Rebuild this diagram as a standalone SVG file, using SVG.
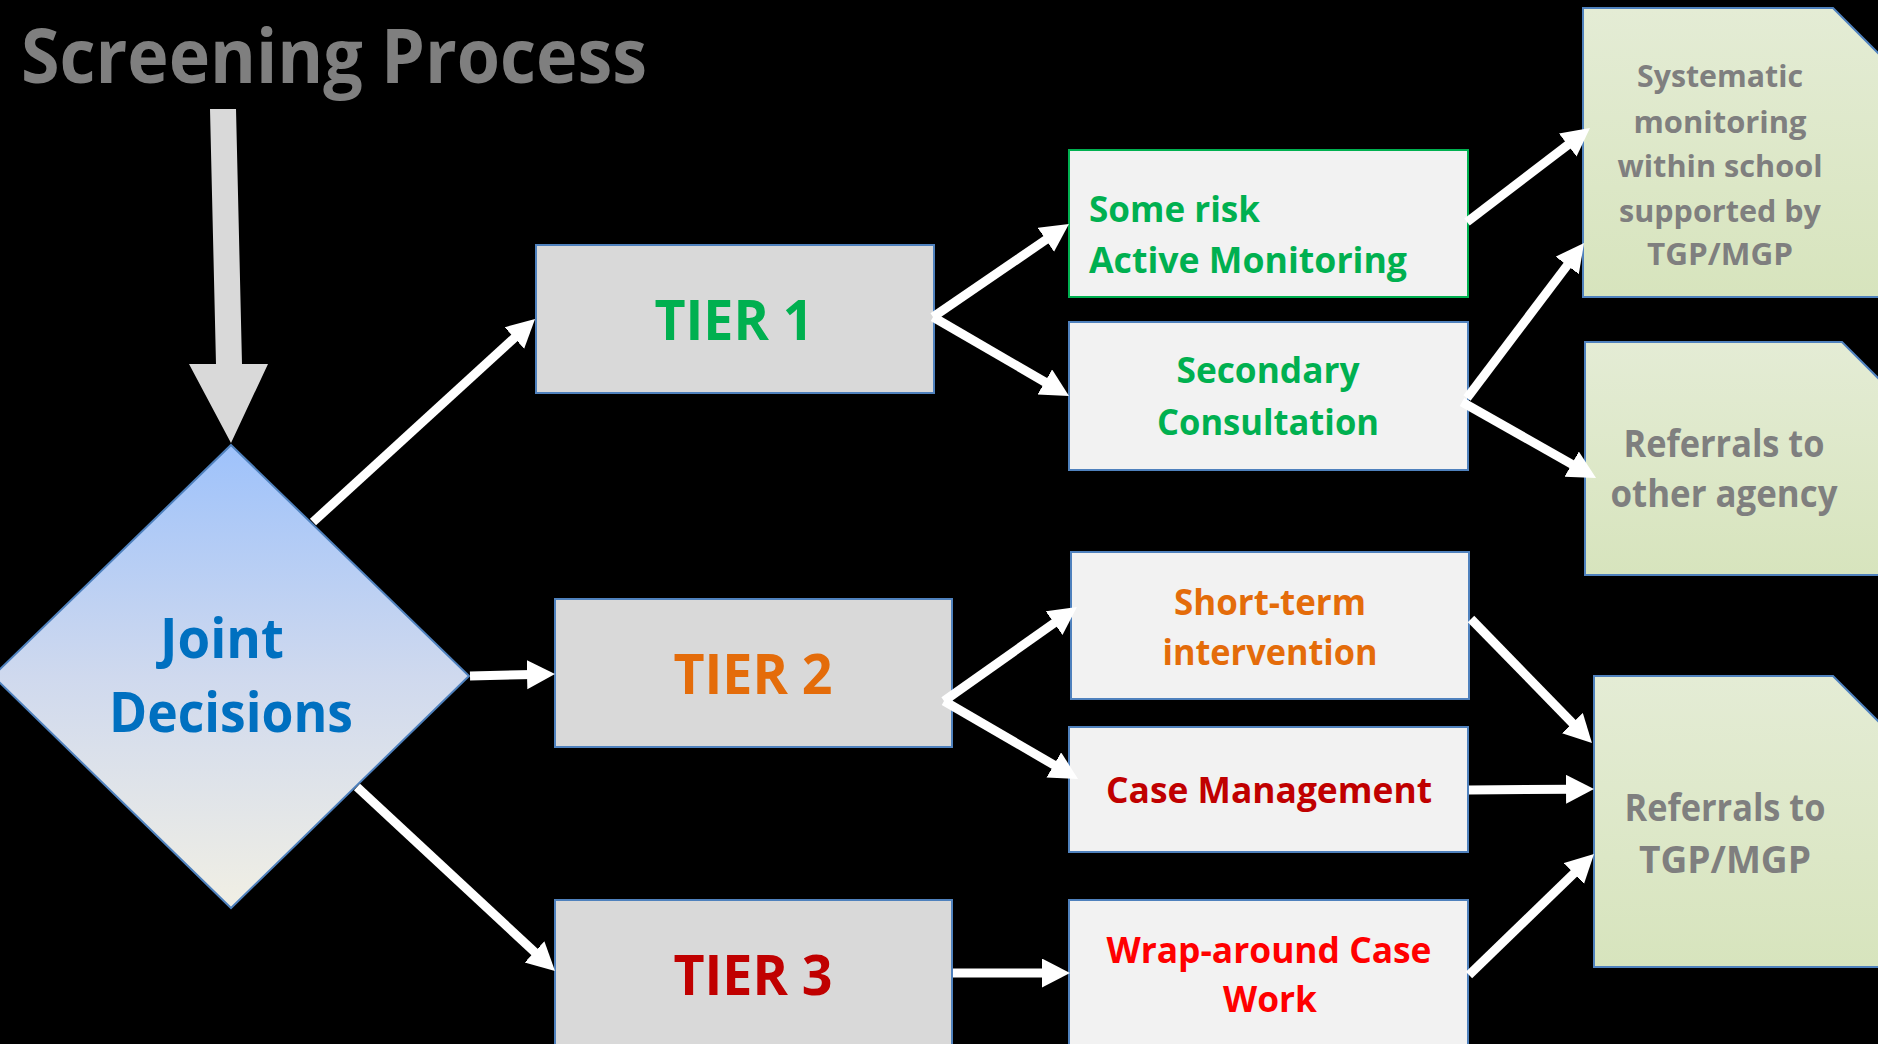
<svg xmlns="http://www.w3.org/2000/svg" width="1878" height="1044" viewBox="0 0 1878 1044">
<defs>
<linearGradient id="gDiamond" x1="0" y1="0" x2="0" y2="1">
<stop offset="0" stop-color="#9ec2fb"/>
<stop offset="0.5" stop-color="#cfd9ee"/>
<stop offset="1" stop-color="#f1efe4"/>
</linearGradient>
<linearGradient id="gGreen" x1="0" y1="0" x2="0" y2="1">
<stop offset="0" stop-color="#e4ecd5"/>
<stop offset="1" stop-color="#d7e4bd"/>
</linearGradient>
<marker id="ah" markerUnits="userSpaceOnUse" markerWidth="30" markerHeight="30" refX="6" refY="14.5" orient="auto" viewBox="0 0 30 30">
<path d="M0,0 L28,14.5 L0,29 z" fill="#ffffff"/>
</marker>
<style>
text{font-family:"Open Sans","Liberation Sans",sans-serif;font-weight:700}
.tier{fill:#d9d9d9;stroke:#4f81bd;stroke-width:2}
.box{fill:#f2f2f2;stroke:#4f81bd;stroke-width:2}
.doc{fill:url(#gGreen);stroke:#4f81bd;stroke-width:2}
.conn line{stroke:#ffffff;stroke-width:9;marker-end:url(#ah)}
.gray{fill:#7f7f7f}
</style>
</defs>
<rect x="0" y="0" width="1878" height="1044" fill="#000000"/>

<g id="title">
<text x="21" y="83" font-size="76" fill="#7f7f7f" textLength="626" lengthAdjust="spacingAndGlyphs">Screening Process</text>
</g>

<g id="entry-arrow">
<polygon points="210,109 236,109 242,364 268,364 231,443 189,364 216,364" fill="#d9d9d9"/>
</g>

<g id="joint-decisions">
<polygon points="231,445 469,676 231,908 -7,676" fill="url(#gDiamond)" stroke="#4f81bd" stroke-width="2"/>
<text x="222" y="658" font-size="56" fill="#0070c0" text-anchor="middle" textLength="124" lengthAdjust="spacingAndGlyphs">Joint</text>
<text x="231" y="732" font-size="56" fill="#0070c0" text-anchor="middle" textLength="244" lengthAdjust="spacingAndGlyphs">Decisions</text>
</g>

<g id="tier1">
<rect class="tier" x="536" y="245" width="398" height="148"/>
<text x="734" y="340" font-size="56" fill="#00b050" text-anchor="middle" textLength="159" lengthAdjust="spacingAndGlyphs">TIER 1</text>
</g>
<g id="tier2">
<rect class="tier" x="555" y="599" width="397" height="148"/>
<text x="753" y="694" font-size="56" fill="#e46c0a" text-anchor="middle" textLength="159" lengthAdjust="spacingAndGlyphs">TIER 2</text>
</g>
<g id="tier3">
<rect class="tier" x="555" y="900" width="397" height="160"/>
<text x="753" y="995" font-size="56" fill="#c00000" text-anchor="middle" textLength="159" lengthAdjust="spacingAndGlyphs">TIER 3</text>
</g>

<g id="some-risk">
<rect x="1069" y="150" width="399" height="147" fill="#f2f2f2" stroke="#00b050" stroke-width="2"/>
<text x="1089" y="222" font-size="36" fill="#00b050" textLength="171" lengthAdjust="spacingAndGlyphs">Some risk</text>
<text x="1089" y="273" font-size="36" fill="#00b050" textLength="318" lengthAdjust="spacingAndGlyphs">Active Monitoring</text>
</g>
<g id="secondary">
<rect class="box" x="1069" y="322" width="399" height="148"/>
<text x="1268" y="383" font-size="36" fill="#00b050" text-anchor="middle" textLength="183" lengthAdjust="spacingAndGlyphs">Secondary</text>
<text x="1268" y="435" font-size="36" fill="#00b050" text-anchor="middle" textLength="222" lengthAdjust="spacingAndGlyphs">Consultation</text>
</g>
<g id="short-term">
<rect class="box" x="1071" y="552" width="398" height="147"/>
<text x="1270" y="615" font-size="36" fill="#e46c0a" text-anchor="middle" textLength="192" lengthAdjust="spacingAndGlyphs">Short-term</text>
<text x="1270" y="665" font-size="36" fill="#e46c0a" text-anchor="middle" textLength="215" lengthAdjust="spacingAndGlyphs">intervention</text>
</g>
<g id="case-management">
<rect class="box" x="1069" y="727" width="399" height="125"/>
<text x="1269" y="803" font-size="36" fill="#c00000" text-anchor="middle" textLength="326" lengthAdjust="spacingAndGlyphs">Case Management</text>
</g>
<g id="wrap-around">
<rect class="box" x="1069" y="900" width="399" height="160"/>
<text x="1269" y="963" font-size="36" fill="#ff0000" text-anchor="middle" textLength="325" lengthAdjust="spacingAndGlyphs">Wrap-around Case</text>
<text x="1270" y="1012" font-size="36" fill="#ff0000" text-anchor="middle" textLength="94" lengthAdjust="spacingAndGlyphs">Work</text>
</g>

<g id="systematic-monitoring">
<polygon class="doc" points="1583,8 1833,8 1900,75 1900,297 1583,297"/>
<text class="gray" x="1720" y="87" font-size="31" text-anchor="middle" textLength="166" lengthAdjust="spacingAndGlyphs">Systematic</text>
<text class="gray" x="1720" y="133" font-size="31" text-anchor="middle" textLength="173" lengthAdjust="spacingAndGlyphs">monitoring</text>
<text class="gray" x="1720" y="177" font-size="31" text-anchor="middle" textLength="205" lengthAdjust="spacingAndGlyphs">within school</text>
<text class="gray" x="1720" y="222" font-size="31" text-anchor="middle" textLength="202" lengthAdjust="spacingAndGlyphs">supported by</text>
<text class="gray" x="1720" y="265" font-size="31" text-anchor="middle" textLength="146" lengthAdjust="spacingAndGlyphs">TGP/MGP</text>
</g>
<g id="referrals-other-agency">
<polygon class="doc" points="1585,342 1842,342 1900,400 1900,575 1585,575"/>
<text class="gray" x="1724" y="457" font-size="37" text-anchor="middle" textLength="201" lengthAdjust="spacingAndGlyphs">Referrals to</text>
<text class="gray" x="1724" y="507" font-size="37" text-anchor="middle" textLength="227" lengthAdjust="spacingAndGlyphs">other agency</text>
</g>
<g id="referrals-tgp-mgp">
<polygon class="doc" points="1594,676 1833,676 1900,743 1900,967 1594,967"/>
<text class="gray" x="1725" y="821" font-size="37" text-anchor="middle" textLength="201" lengthAdjust="spacingAndGlyphs">Referrals to</text>
<text class="gray" x="1725" y="873" font-size="37" text-anchor="middle" textLength="172" lengthAdjust="spacingAndGlyphs">TGP/MGP</text>
</g>

<g id="connectors" class="conn">
<line x1="313" y1="522" x2="518.8" y2="333.9"/>
<line x1="470" y1="676" x2="533" y2="674.5"/>
<line x1="357" y1="787" x2="538.9" y2="956"/>
<line x1="933" y1="317" x2="1050.8" y2="236.4"/>
<line x1="933" y1="317" x2="1050" y2="385"/>
<line x1="1467" y1="222" x2="1572.5" y2="141.4"/>
<line x1="1467" y1="398" x2="1570.8" y2="260.6"/>
<line x1="1462" y1="402" x2="1576.9" y2="467.1"/>
<line x1="944" y1="701" x2="1059" y2="619.7"/>
<line x1="944" y1="701" x2="1059" y2="767.9"/>
<line x1="1471" y1="619" x2="1576.6" y2="727.3"/>
<line x1="1469" y1="790" x2="1572" y2="789.2"/>
<line x1="1469" y1="975" x2="1578.2" y2="869.3"/>
<line x1="953" y1="973" x2="1048" y2="973"/>
</g>
</svg>
